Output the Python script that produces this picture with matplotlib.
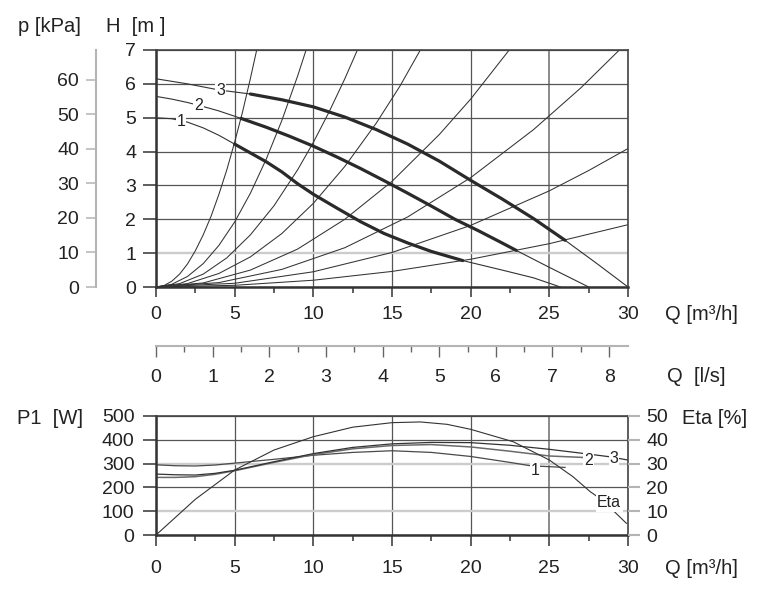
import matplotlib
matplotlib.use('Agg')
import matplotlib.pyplot as plt
from matplotlib.ticker import MultipleLocator

plt.rcParams['font.family'] = ['Liberation Sans', 'DejaVu Sans']

# ---- top chart: pump curves H(Q) ----
q_c1 = [0, 1, 2, 3, 4, 5, 6, 7, 8, 9, 10, 11.5, 13, 14.5, 16, 17.5, 19.5, 22, 24, 25.7]
h_c1 = [5.0, 4.97, 4.87, 4.7, 4.48, 4.22, 3.96, 3.7, 3.4, 3.05, 2.74, 2.33, 1.93, 1.58, 1.3, 1.05, 0.78, 0.5, 0.27, 0]
q_c2 = [0, 1, 2, 3, 4, 5.4, 7, 8.5, 10, 11.5, 13, 14.5, 16, 17.5, 19, 20.5, 22, 22.9, 25, 27.5]
h_c2 = [5.63, 5.55, 5.45, 5.33, 5.2, 4.98, 4.72, 4.45, 4.16, 3.84, 3.5, 3.14, 2.77, 2.39, 2.0, 1.66, 1.3, 1.08, 0.58, 0]
q_c3 = [0, 2, 4, 6, 8, 10, 12, 14, 16, 18, 20, 22, 24, 26, 28, 30]
h_c3 = [6.15, 6.0, 5.82, 5.70, 5.53, 5.32, 5.02, 4.65, 4.22, 3.72, 3.15, 2.6, 2.02, 1.38, 0.7, 0]
pump_curves = [(q_c1, h_c1, (5, 19.5), '1', (1.6, 4.9)),
               (q_c2, h_c2, (5.4, 22.9), '2', (2.7, 5.36)),
               (q_c3, h_c3, (6, 26), '3', (4.1, 5.81))]

# system curves
sys_q = [
    [0, 0.5, 1, 1.5, 2, 2.5, 3, 3.5, 4, 4.5, 5, 5.5, 6, 6.4],
    [0, 1, 2, 3, 4, 5, 6, 7, 8, 9, 9.54],
    [0, 1.5, 3, 4.5, 6, 7.5, 9, 10, 11, 12, 12.8],
    [0, 2, 4, 6, 8, 10, 12, 14, 15.5, 16.8],
    [0, 3, 6, 9, 12, 15, 18, 20, 22.45],
    [0, 4, 8, 12, 16, 20, 24, 27, 29.45],
    [0, 5, 10, 15, 20, 25, 27.5, 30],
    [0, 5, 10, 15, 20, 25, 30],
]
sys_h = [
    [0, 0.04, 0.17, 0.38, 0.68, 1.07, 1.54, 2.09, 2.74, 3.46, 4.28, 5.17, 6.16, 7.0],
    [0, 0.08, 0.31, 0.69, 1.23, 1.92, 2.77, 3.77, 4.92, 6.23, 7.0],
    [0, 0.1, 0.38, 0.86, 1.54, 2.4, 3.46, 4.27, 5.17, 6.15, 7.0],
    [0, 0.1, 0.4, 0.89, 1.58, 2.47, 3.56, 4.84, 5.93, 7.0],
    [0, 0.12, 0.5, 1.12, 2.0, 3.12, 4.5, 5.55, 7.0],
    [0, 0.13, 0.52, 1.16, 2.07, 3.23, 4.65, 5.88, 7.0],
    [0, 0.11, 0.45, 1.02, 1.82, 2.84, 3.44, 4.09],
    [0, 0.05, 0.2, 0.46, 0.82, 1.28, 1.84],
]

# ---- bottom chart: P1 and Eta ----
q_p1 = [0, 1.25, 2.5, 3.75, 5, 7.5, 10, 12.5, 15, 17.5, 20, 22.5, 23.8, 25, 26]
p1_1 = [295, 291, 290, 294, 302, 318, 335, 347, 354, 347, 330, 305, 291, 287, 284]
q_p2 = [0, 1.25, 2.5, 3.75, 5, 7.5, 10, 12.5, 15, 17.5, 20, 22.5, 25, 27.1]
p1_2 = [242, 242, 245, 255, 270, 305, 338, 362, 376, 380, 370, 352, 332, 326]
q_p3 = [0, 1.25, 2.5, 3.75, 5, 7.5, 10, 12.5, 15, 17.5, 20, 22.5, 25, 27.5, 28.8, 30]
p1_3 = [256, 253, 252, 259, 272, 308, 342, 368, 383, 389, 388, 377, 360, 340, 329, 315]
q_eta = [0, 2.5, 5, 7.5, 10, 12.5, 15, 16.8, 18.5, 20, 22.7, 25, 26.5, 27.6, 28.4, 29.1, 29.9]
eta = [0, 15, 27.3, 35.7, 41.3, 45.3, 47.2, 47.5, 46.5, 44.4, 39.2, 31.5, 24.5, 18.2, 14.5, 10, 4.9]

W, H = 777, 599
TXT = '#222222'
GRID = '#555555'
LIGHT = '#b4b4b4'
TICKFS = 14
TITLEFS = 14.5


def fx(px):
    return px / W


def fy(py):
    return 1 - py / H


def style_grid(a, light_y, light_x):
    # restyle single gridlines by their tick value
    for gl, v in zip(a.get_ygridlines(), a.get_yticks()):
        if round(v) in light_y:
            gl.set_color('#cccccc')
            gl.set_linewidth(1.7)
    for gl, v in zip(a.get_xgridlines(), a.get_xticks()):
        if round(v) in light_x:
            gl.set_color('#8a8a8a')
            gl.set_linewidth(1.4)


fig = plt.figure(figsize=(W / 100, H / 100), dpi=100)

# top axes
ax = fig.add_axes([fx(156), fy(287), fx(628) - fx(156), fy(50) - fy(287)])
ax.set_xlim(0, 30)
ax.set_ylim(0, 7)
ax.xaxis.set_major_locator(MultipleLocator(5))
ax.xaxis.set_minor_locator(MultipleLocator(2.5))
ax.yaxis.set_major_locator(MultipleLocator(1))
ax.grid(True, which='major', color=GRID, lw=0.9)
style_grid(ax, [1], [25])
ax.set_axisbelow(True)
for s in ['left', 'bottom']:
    ax.spines[s].set_linewidth(1.8)
    ax.spines[s].set_color('#333333')
for s in ['top', 'right']:
    ax.spines[s].set_linewidth(1.2)
    ax.spines[s].set_color('#444444')
ax.tick_params(axis='x', which='major', direction='out', length=7.5, width=1.1,
               color='#333333', pad=6.5, labelsize=TICKFS, labelcolor=TXT)
ax.tick_params(axis='x', which='minor', direction='out', length=4.5, width=1.1, color='#333333')
ax.tick_params(axis='y', direction='out', length=9.4, width=1.1, color='#333333',
               pad=5, labelsize=TICKFS, labelcolor=TXT)

for q, h in zip(sys_q, sys_h):
    ax.plot(q, h, color='#333333', lw=0.75)

for q, h, (a, b), lab, pos in pump_curves:
    ax.plot(q, h, color='#333333', lw=0.8)
    qs = [x for x in q if a <= x <= b]
    hs = [y for x, y in zip(q, h) if a <= x <= b]
    ax.plot(qs, hs, color='#2a2a2a', lw=2.3, solid_capstyle='round')
    ax.text(pos[0], pos[1], lab, fontsize=11.5, color=TXT, ha='center', va='center',
            bbox=dict(boxstyle='square,pad=0.05', fc='white', ec='none'))

# p [kPa] secondary axis
sec = ax.secondary_yaxis(-60 / 472, functions=(lambda h: h * 9.81, lambda p: p / 9.81))
sec.set_yticks([0, 10, 20, 30, 40, 50, 60])
sec.spines['left'].set_color(LIGHT)
sec.spines['left'].set_linewidth(1.5)
sec.tick_params(axis='y', direction='out', length=7.2, width=1.1, color=LIGHT,
                pad=5, labelsize=TICKFS, labelcolor=TXT)

# Q [l/s] secondary axis
secx = ax.secondary_xaxis(-59 / 237, functions=(lambda q: q / 3.6, lambda l: l * 3.6))
secx.set_xticks(range(9))
secx.xaxis.set_minor_locator(MultipleLocator(0.5))
secx.spines['bottom'].set_color(LIGHT)
secx.spines['bottom'].set_linewidth(1.5)
secx.tick_params(axis='x', which='major', direction='out', length=8, width=1.0,
                 color='#666666', pad=8.5, labelsize=TICKFS, labelcolor=TXT)
secx.tick_params(axis='x', which='minor', direction='out', length=4.5, width=1.0, color='#666666')

# bottom axes
axb = fig.add_axes([fx(156), fy(535), fx(628) - fx(156), fy(416) - fy(535)])
axb.set_xlim(0, 30)
axb.set_ylim(0, 500)
axb.xaxis.set_major_locator(MultipleLocator(5))
axb.xaxis.set_minor_locator(MultipleLocator(2.5))
axb.yaxis.set_major_locator(MultipleLocator(100))
axb.grid(True, which='major', color=GRID, lw=0.9)
style_grid(axb, [100, 300], [25])
axb.set_axisbelow(True)
for s in ['left', 'bottom']:
    axb.spines[s].set_linewidth(1.8)
    axb.spines[s].set_color('#333333')
for s in ['top', 'right']:
    axb.spines[s].set_linewidth(1.2)
    axb.spines[s].set_color('#444444')
axb.tick_params(axis='x', which='major', direction='out', length=8, width=1.1,
                color='#333333', pad=10, labelsize=TICKFS, labelcolor=TXT)
axb.tick_params(axis='x', which='minor', direction='out', length=4.5, width=1.1, color='#333333')
axb.tick_params(axis='y', direction='out', length=9.4, width=1.1, color='#333333',
                pad=6, labelsize=TICKFS, labelcolor=TXT)

axb.plot(q_p1, p1_1, color='#4a4a4a', lw=0.9)
axb.plot(q_p2, p1_2, color='#6a6a6a', lw=1.1)
axb.plot(q_p3, p1_3, color='#333333', lw=0.9)

axe = axb.twinx()
axe.set_ylim(0, 50)
axe.yaxis.set_major_locator(MultipleLocator(10))
for s in axe.spines.values():
    s.set_visible(False)
axe.tick_params(axis='y', direction='out', length=8.6, width=1.5, color=LIGHT,
                pad=4.5, labelsize=TICKFS, labelcolor=TXT)
axe.plot(q_eta, eta, color='#333333', lw=0.8)

bb = dict(boxstyle='square,pad=0.05', fc='white', ec='none')
axb.text(24.1, 272, '1', fontsize=11.5, color=TXT, ha='center', va='center', bbox=bb)
axb.text(27.5, 314, '2', fontsize=11.5, color=TXT, ha='center', va='center', bbox=bb)
axb.text(29.1, 322, '3', fontsize=11.5, color=TXT, ha='center', va='center', bbox=bb)
axe.text(28.8, 13.6, 'Eta', fontsize=11.5, color=TXT, ha='center', va='center',
         bbox=dict(boxstyle='square,pad=0.1', fc='white', ec='none'))

# axis titles
fig.text(fx(18), fy(26), 'p [kPa]', fontsize=TITLEFS, color=TXT, va='center', ha='left')
fig.text(fx(106), fy(26), 'H  [m ]', fontsize=TITLEFS, color=TXT, va='center', ha='left')
fig.text(fx(665), fy(315), 'Q [m³/h]', fontsize=TITLEFS, color=TXT, va='center', ha='left')
fig.text(fx(667), fy(376), 'Q  [l/s]', fontsize=TITLEFS, color=TXT, va='center', ha='left')
fig.text(fx(17), fy(419), 'P1  [W]', fontsize=TITLEFS, color=TXT, va='center', ha='left')
fig.text(fx(682), fy(418), 'Eta [%]', fontsize=TITLEFS, color=TXT, va='center', ha='left')
fig.text(fx(665), fy(568), 'Q [m³/h]', fontsize=TITLEFS, color=TXT, va='center', ha='left')

fig.savefig('out.png', dpi=100, facecolor='white')
